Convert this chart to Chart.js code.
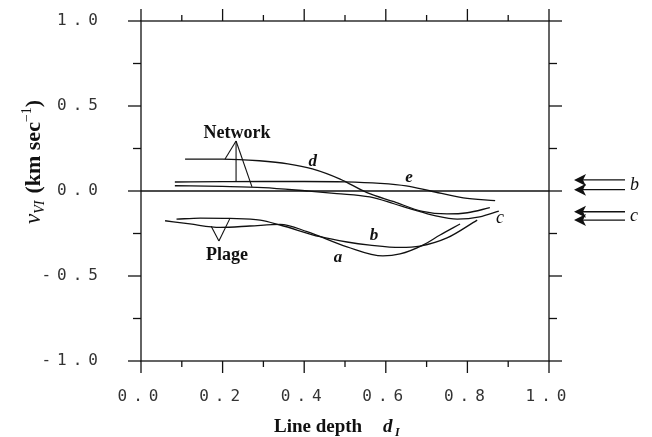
<!DOCTYPE html>
<html>
<head>
<meta charset="utf-8">
<script src="https://cdn.jsdelivr.net/npm/chart.js@4.4.0/dist/chart.umd.min.js"></script>
<style>
  html, body { margin: 0; padding: 0; background: #fff; }
  #wrap { width: 652px; height: 437px; }
</style>
</head>
<body>
<div id="wrap"><canvas id="chart"></canvas></div>
<script>
// line depth (x) and velocity (y) for each curve
const dDepth = [0.108, 0.2, 0.29, 0.36, 0.42, 0.488, 0.554, 0.62, 0.69, 0.75, 0.8, 0.855];
const dVel   = [0.188, 0.188, 0.178, 0.16, 0.13, 0.07, -0.01, -0.063, -0.12, -0.135, -0.128, -0.098];

const eDepth = [0.083, 0.2, 0.3, 0.4, 0.5, 0.586, 0.65, 0.71, 0.79, 0.868];
const eVel   = [0.053, 0.055, 0.056, 0.056, 0.054, 0.045, 0.03, 0.0, -0.04, -0.057];

const cDepth = [0.083, 0.2, 0.3, 0.407, 0.48, 0.561, 0.62, 0.667, 0.72, 0.775, 0.83, 0.877];
const cVel   = [0.031, 0.027, 0.02, 0.0, -0.015, -0.035, -0.075, -0.11, -0.145, -0.165, -0.152, -0.118];

const aDepth = [0.059, 0.12, 0.194, 0.267, 0.341, 0.407, 0.505, 0.593, 0.635, 0.691, 0.733, 0.782];
const aVel   = [-0.175, -0.194, -0.214, -0.206, -0.196, -0.239, -0.328, -0.382, -0.37, -0.318, -0.259, -0.194];

const bDepth = [0.087, 0.145, 0.218, 0.292, 0.341, 0.439, 0.505, 0.561, 0.635, 0.684, 0.75, 0.824];
const bVel   = [-0.166, -0.159, -0.161, -0.171, -0.2, -0.269, -0.3, -0.318, -0.332, -0.324, -0.276, -0.171];

// velocities marked by the arrows right of the frame
const arrowB = [0.065, 0.008];
const arrowC = [-0.122, -0.171];

// axis ticks
const xMajor = [0, 0.2, 0.4, 0.6, 0.8, 1.0];
const xMinor = [0.1, 0.3, 0.5, 0.7, 0.9];
const yMajor = [-1, -0.5, 0, 0.5, 1];
const yMinor = [-0.75, -0.25, 0.25, 0.75];

// curve labels [text, depth, velocity]
const curveLabels = [['d', 0.421, 0.175], ['e', 0.657, 0.08], ['b', 0.571, -0.265], ['a', 0.483, -0.39], ['c', 0.88, -0.16]];

// leader lines from the group labels to the curves
const networkApex = [0.233, 0.294];
const networkEnds = [[0.206, 0.188], [0.233, 0.057], [0.272, 0.024]];
const plageApex = [0.191, -0.294];
const plageEnds = [[0.172, -0.208], [0.218, -0.161]];

const zip = (xs, ys) => xs.map((v, i) => ({ x: v, y: ys[i] }));

const ink = '#111';

function curve(label, xs, ys) {
  return {
    label: label,
    data: zip(xs, ys),
    borderColor: ink,
    borderWidth: 1.3,
    pointRadius: 0,
    cubicInterpolationMode: 'monotone',
    fill: false,
  };
}

const frame = {
  id: 'frame',
  beforeDraw(chart) {
    chart.ctx.letterSpacing = '6px';
  },
  afterDraw(chart) {
    const { ctx, chartArea: a, scales: { x, y } } = chart;
    const px = (v) => x.getPixelForValue(v);
    const py = (v) => y.getPixelForValue(v);
    ctx.save();
    ctx.letterSpacing = '0px';
    ctx.strokeStyle = ink;
    ctx.fillStyle = ink;
    ctx.lineWidth = 1.3;

    const line = (x1, y1, x2, y2) => {
      ctx.beginPath();
      ctx.moveTo(x1, y1);
      ctx.lineTo(x2, y2);
      ctx.stroke();
    };

    // frame
    ctx.strokeRect(a.left, a.top, a.right - a.left, a.bottom - a.top);
    line(a.left, py(0), a.right, py(0));

    // ticks point outward on all four sides
    xMajor.forEach((v) => {
      line(px(v), a.top, px(v), a.top - 12);
      line(px(v), a.bottom, px(v), a.bottom + 12);
    });
    xMinor.forEach((v) => {
      line(px(v), a.top, px(v), a.top - 6);
      line(px(v), a.bottom, px(v), a.bottom + 6);
    });
    yMajor.forEach((v) => {
      line(a.left - 13, py(v), a.left, py(v));
      line(a.right, py(v), a.right + 13, py(v));
    });
    yMinor.forEach((v) => {
      line(a.left - 8, py(v), a.left, py(v));
      line(a.right, py(v), a.right + 8, py(v));
    });

    // leader lines
    ctx.lineWidth = 1.1;
    networkEnds.forEach((p) => line(px(networkApex[0]), py(networkApex[1]), px(p[0]), py(p[1])));
    plageEnds.forEach((p) => line(px(plageApex[0]), py(plageApex[1]), px(p[0]), py(p[1])));

    // group labels
    ctx.font = 'bold 18px "Liberation Serif"';
    ctx.textAlign = 'center';
    ctx.textBaseline = 'bottom';
    ctx.fillText('Network', px(networkApex[0]) + 1, py(networkApex[1]) + 1);
    ctx.textBaseline = 'top';
    ctx.fillText('Plage', px(plageApex[0]) + 8, py(plageApex[1]) + 5);

    // curve labels
    ctx.textBaseline = 'middle';
    curveLabels.forEach(([t, vx, vy]) => {
      ctx.font = (t === 'c' ? 'italic 18px' : 'bold italic 17px') + ' "Liberation Serif"';
      ctx.fillText(t, px(vx), py(vy));
    });

    // notched arrows beyond the right edge
    ctx.lineWidth = 1.3;
    const tip = a.right + 25;
    const arrow = (v) => {
      const yy = py(v);
      line(tip + 8, yy, a.right + 76, yy);
      ctx.beginPath();
      ctx.moveTo(tip, yy);
      ctx.lineTo(tip + 12, yy - 6);
      ctx.lineTo(tip + 9, yy);
      ctx.lineTo(tip + 12, yy + 6);
      ctx.closePath();
      ctx.fill();
    };
    ctx.font = 'italic 18px "Liberation Serif"';
    ctx.textAlign = 'left';
    [['b', arrowB], ['c', arrowC]].forEach(([t, vals]) => {
      vals.forEach(arrow);
      ctx.fillText(t, a.right + 81, (py(vals[0]) + py(vals[1])) / 2);
    });

    // x axis title
    ctx.textBaseline = 'alphabetic';
    ctx.font = 'bold 19px "Liberation Serif"';
    ctx.fillText('Line depth', 274, 432);
    ctx.font = 'bold italic 19px "Liberation Serif"';
    ctx.fillText('d', 383, 432);
    ctx.font = 'bold italic 12px "Liberation Serif"';
    ctx.fillText('I', 395, 436);

    // y axis title, rotated
    ctx.translate(40, 224);
    ctx.rotate(-Math.PI / 2);
    let cx = 0;
    const put = (t, font, dy) => {
      ctx.font = font;
      ctx.fillText(t, cx, dy);
      cx += ctx.measureText(t).width;
    };
    put('v', 'italic 23px "Liberation Serif"', 0);
    put('VI', 'italic 14px "Liberation Serif"', 4);
    cx += 7;
    put('(km sec', 'bold 22px "Liberation Serif"', 0);
    put('\u22121', '14px "Liberation Serif"', -9);
    put(')', 'bold 22px "Liberation Serif"', 0);

    ctx.restore();
  },
};

const tickFont = { family: '"DejaVu Sans Mono"', size: 16 };

new Chart(document.getElementById('chart'), {
  type: 'line',
  data: {
    datasets: [
      curve('d', dDepth, dVel),
      curve('e', eDepth, eVel),
      curve('c', cDepth, cVel),
      curve('a', aDepth, aVel),
      curve('b', bDepth, bVel),
    ],
  },
  options: {
    responsive: true,
    maintainAspectRatio: false,
    animation: false,
    devicePixelRatio: 1,
    layout: { padding: { top: 21, right: 103, left: 0, bottom: 0 } },
    plugins: { legend: { display: false }, tooltip: { enabled: false } },
    scales: {
      x: {
        type: 'linear',
        min: 0,
        max: 1,
        afterFit: (s) => {
          s.height = 76;
          s.paddingLeft = 0;
          s.paddingRight = 0;
        },
        grid: { display: false },
        border: { display: false },
        ticks: {
          stepSize: 0.2,
          padding: 18,
          color: '#333',
          font: tickFont,
          maxRotation: 0,
          callback: (v) => v.toFixed(1),
        },
      },
      y: {
        type: 'linear',
        min: -1,
        max: 1,
        afterFit: (s) => {
          s.width = 141;
          s.paddingTop = 0;
          s.paddingBottom = 0;
        },
        grid: { display: false },
        border: { display: false },
        ticks: {
          stepSize: 0.5,
          padding: 29,
          color: '#333',
          font: tickFont,
          callback: (v) => v.toFixed(1),
        },
      },
    },
  },
  plugins: [frame],
});
</script>
</body>
</html>
